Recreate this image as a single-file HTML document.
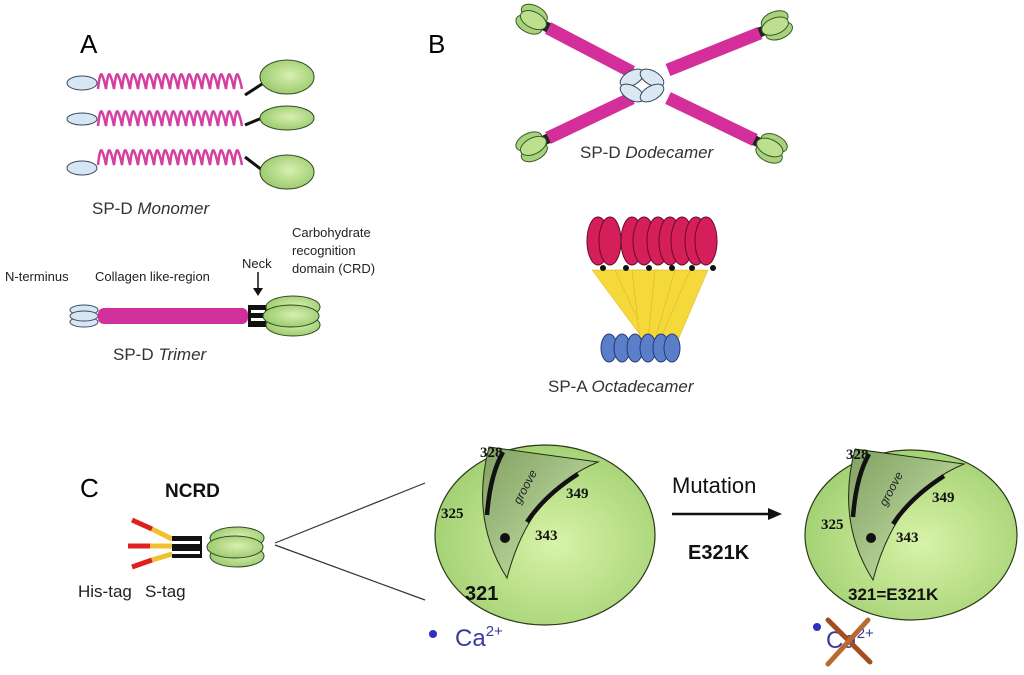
<!DOCTYPE html>
<html><head><meta charset="utf-8"><style>
html,body{margin:0;padding:0;background:#fff;width:1024px;height:675px;overflow:hidden}
svg{display:block;font-family:"Liberation Sans",Arial,sans-serif}
</style></head><body>
<svg width="1024" height="675" viewBox="0 0 1024 675" xmlns="http://www.w3.org/2000/svg">
<defs>
<radialGradient id="g" cx="0.55" cy="0.45" r="0.6"><stop offset="0" stop-color="#d8f0b0"/><stop offset="1" stop-color="#98c86a"/></radialGradient>
<radialGradient id="gb" cx="0.55" cy="0.55" r="0.65"><stop offset="0" stop-color="#d8f3a8"/><stop offset="1" stop-color="#9ccc6c"/></radialGradient>
<linearGradient id="gr" x1="0" y1="0" x2="1" y2="1"><stop offset="0" stop-color="#7fa060"/><stop offset="1" stop-color="#d5ecb5"/></linearGradient>
<path id="hx" d="M0,0 q2,-18 4,-14 q2,4 4,14 q2,-18 4,-14 q2,4 4,14 q2,-18 4,-14 q2,4 4,14 q2,-18 4,-14 q2,4 4,14 q2,-18 4,-14 q2,4 4,14 q2,-18 4,-14 q2,4 4,14 q2,-18 4,-14 q2,4 4,14 q2,-18 4,-14 q2,4 4,14 q2,-18 4,-14 q2,4 4,14 q2,-18 4,-14 q2,4 4,14 q2,-18 4,-14 q2,4 4,14 q2,-18 4,-14 q2,4 4,14 q2,-18 4,-14 q2,4 4,14 q2,-18 4,-14 q2,4 4,14 q2,-18 4,-14 q2,4 4,14 q2,-18 4,-14 q2,4 4,14 q2,-18 4,-14 q2,4 4,14 q2,-18 4,-14 q2,4 4,14" fill="none" stroke="#d43fa2" stroke-width="2.5"/>
<g id="crd3"><ellipse cx="0" cy="-9" rx="27" ry="11" fill="url(#g)" stroke="#2f4a20"/><ellipse cx="0" cy="9" rx="27" ry="11" fill="url(#g)" stroke="#2f4a20"/><ellipse cx="-2" cy="0" rx="28" ry="11" fill="url(#g)" stroke="#2f4a20"/></g>
<g id="endc"><rect x="-4" y="-5" width="8" height="10" fill="#222"/><ellipse cx="15" cy="-6" rx="14" ry="8" fill="#a8d27c" stroke="#3a5a28"/><ellipse cx="15" cy="6" rx="14" ry="8" fill="#a8d27c" stroke="#3a5a28"/><ellipse cx="13" cy="0" rx="14" ry="8" fill="#bde08e" stroke="#3a5a28"/></g>
</defs>

<!-- Panel A -->
<text x="80" y="53" font-size="26">A</text>
<ellipse cx="82" cy="83" rx="15" ry="7" fill="#d6e6f5" stroke="#3a4a5a"/>
<use href="#hx" x="98" y="89"/>
<line x1="245" y1="95" x2="262" y2="84" stroke="#111" stroke-width="3"/>
<ellipse cx="287" cy="77" rx="27" ry="17" fill="url(#g)" stroke="#2f4a20"/>
<ellipse cx="82" cy="119" rx="15" ry="6" fill="#d6e6f5" stroke="#3a4a5a"/>
<use href="#hx" x="98" y="126"/>
<line x1="245" y1="125" x2="262" y2="118" stroke="#111" stroke-width="3"/>
<ellipse cx="287" cy="118" rx="27" ry="12" fill="url(#g)" stroke="#2f4a20"/>
<ellipse cx="82" cy="168" rx="15" ry="7" fill="#d6e6f5" stroke="#3a4a5a"/>
<use href="#hx" x="98" y="165"/>
<line x1="245" y1="157" x2="262" y2="170" stroke="#111" stroke-width="3"/>
<ellipse cx="287" cy="172" rx="27" ry="17" fill="url(#g)" stroke="#2f4a20"/>
<text x="92" y="214" font-size="17" fill="#333">SP-D <tspan font-style="italic">Monomer</tspan></text>

<text x="5" y="281" font-size="13" fill="#222">N-terminus</text>
<text x="95" y="281" font-size="13" fill="#222">Collagen like-region</text>
<text x="242" y="268" font-size="13" fill="#222">Neck</text>
<line x1="258" y1="272" x2="258" y2="290" stroke="#111" stroke-width="1.5"/>
<path d="M253,288 L263,288 L258,296 Z" fill="#111"/>
<text x="292" y="237" font-size="13" fill="#222">Carbohydrate</text>
<text x="292" y="255" font-size="13" fill="#222">recognition</text>
<text x="292" y="273" font-size="13" fill="#222">domain (CRD)</text>
<ellipse cx="84" cy="310" rx="14" ry="5" fill="#d6e6f5" stroke="#3a4a5a"/>
<ellipse cx="84" cy="322" rx="14" ry="5" fill="#d6e6f5" stroke="#3a4a5a"/>
<ellipse cx="84" cy="316" rx="14" ry="5" fill="#d6e6f5" stroke="#3a4a5a"/>
<rect x="98" y="308" width="150" height="16" rx="6" fill="#d22f9a"/>
<rect x="248" y="305" width="18" height="22" fill="#111"/>
<rect x="251" y="310" width="14" height="3" fill="#fff"/>
<rect x="251" y="318" width="14" height="3" fill="#fff"/>
<use href="#crd3" x="293" y="316"/>
<text x="113" y="360" font-size="17" fill="#333">SP-D <tspan font-style="italic">Trimer</tspan></text>

<!-- Panel B -->
<text x="428" y="53" font-size="26">B</text>
<g stroke="#d32e9a" stroke-width="13" stroke-linecap="butt">
<line x1="548" y1="28" x2="632" y2="72"/>
<line x1="760" y1="33" x2="668" y2="70"/>
<line x1="548" y1="138" x2="632" y2="98"/>
<line x1="755" y1="140" x2="668" y2="98"/>
</g>
<ellipse cx="632" cy="78" rx="13" ry="7" transform="rotate(-30 632 78)" fill="#dbe8f4" stroke="#3a4a5a"/>
<ellipse cx="652" cy="78" rx="13" ry="7" transform="rotate(30 652 78)" fill="#dbe8f4" stroke="#3a4a5a"/>
<ellipse cx="632" cy="93" rx="13" ry="7" transform="rotate(30 632 93)" fill="#dbe8f4" stroke="#3a4a5a"/>
<ellipse cx="652" cy="93" rx="13" ry="7" transform="rotate(-30 652 93)" fill="#dbe8f4" stroke="#3a4a5a"/>
<use href="#endc" transform="translate(545,26) rotate(207)"/>
<use href="#endc" transform="translate(763,31) rotate(-22)"/>
<use href="#endc" transform="translate(545,140) rotate(153)"/>
<use href="#endc" transform="translate(758,142) rotate(25)"/>
<text x="580" y="158" font-size="17" fill="#333">SP-D <tspan font-style="italic">Dodecamer</tspan></text>

<!-- Octadecamer -->
<g fill="#f5d93a" stroke="#d9b020" stroke-width="0.5">
<path d="M592,270 L640,335 L660,335 L630,270 Z"/>
<path d="M615,270 L645,335 L660,335 L645,270 Z"/>
<path d="M632,270 L640,340 L668,340 L660,270 Z"/>
<path d="M655,270 L648,340 L672,340 L675,270 Z"/>
<path d="M675,270 L655,340 L675,340 L692,270 Z"/>
<path d="M690,270 L660,340 L678,340 L708,270 Z"/>
</g>
<g fill="#d51f5a" stroke="#6a0a2a" stroke-width="1">
<ellipse cx="598" cy="241" rx="11" ry="24"/><ellipse cx="610" cy="241" rx="11" ry="24"/>
<ellipse cx="632" cy="241" rx="11" ry="24"/><ellipse cx="644" cy="241" rx="11" ry="24"/>
<ellipse cx="658" cy="241" rx="11" ry="24"/><ellipse cx="670" cy="241" rx="11" ry="24"/>
<ellipse cx="682" cy="241" rx="11" ry="24"/><ellipse cx="696" cy="241" rx="11" ry="24"/>
<ellipse cx="706" cy="241" rx="11" ry="24"/>
</g>
<g fill="#111"><circle cx="603" cy="268" r="3"/><circle cx="626" cy="268" r="3"/><circle cx="649" cy="268" r="3"/><circle cx="672" cy="268" r="3"/><circle cx="692" cy="268" r="3"/><circle cx="713" cy="268" r="3"/></g>
<g fill="#5a7ec8" stroke="#243a7a">
<ellipse cx="609" cy="348" rx="8" ry="14"/><ellipse cx="622" cy="348" rx="8" ry="14"/><ellipse cx="635" cy="348" rx="8" ry="14"/><ellipse cx="648" cy="348" rx="8" ry="14"/><ellipse cx="661" cy="348" rx="8" ry="14"/><ellipse cx="672" cy="348" rx="8" ry="14"/>
</g>
<text x="548" y="392" font-size="17" fill="#333">SP-A <tspan font-style="italic">Octadecamer</tspan></text>

<!-- Panel C -->
<text x="80" y="497" font-size="26">C</text>
<text x="165" y="497" font-size="19" font-weight="bold" fill="#111">NCRD</text>
<g stroke-width="5">
<line x1="132" y1="520" x2="152" y2="529" stroke="#e02020"/><line x1="152" y1="529" x2="172" y2="539" stroke="#f0c030"/>
<line x1="128" y1="546" x2="150" y2="546" stroke="#e02020"/><line x1="150" y1="546" x2="172" y2="546" stroke="#f0c030"/>
<line x1="132" y1="567" x2="152" y2="560" stroke="#e02020"/><line x1="152" y1="560" x2="172" y2="554" stroke="#f0c030"/>
</g>
<rect x="172" y="536" width="30" height="22" fill="#111"/>
<rect x="172" y="541" width="28" height="3" fill="#fff"/>
<rect x="172" y="551" width="28" height="3" fill="#fff"/>
<use href="#crd3" x="237" y="547"/>
<line x1="275" y1="543" x2="425" y2="483" stroke="#333" stroke-width="1.2"/>
<line x1="275" y1="545" x2="425" y2="600" stroke="#333" stroke-width="1.2"/>
<text x="78" y="597" font-size="17" fill="#222">His-tag</text>
<text x="145" y="597" font-size="17" fill="#222">S-tag</text>

<!-- circle 1 -->
<g>
<ellipse cx="545" cy="535" rx="110" ry="90" fill="url(#gb)" stroke="#2a3a1a" stroke-width="1.2"/>
<path d="M489,447 L598,462 Q530,490 507,578 Q470,520 489,447 Z" fill="url(#gr)" stroke="#1e2e10" stroke-width="1"/>
<path d="M487,515 Q490,475 503,452" fill="none" stroke="#111" stroke-width="4.5"/>
<path d="M527,522 Q545,495 578,474" fill="none" stroke="#111" stroke-width="4.5"/>
<circle cx="505" cy="538" r="5" fill="#111"/>
<text x="520" y="505" font-size="12" font-style="italic" fill="#222" transform="rotate(-62 520 505)">groove</text>
<g font-family="Liberation Serif,serif" font-weight="bold" font-size="15" fill="#111">
<text x="480" y="457">328</text><text x="441" y="518">325</text><text x="566" y="498">349</text><text x="535" y="540">343</text>
</g>
</g>
<text x="465" y="600" font-size="20" font-weight="bold" fill="#111">321</text>
<circle cx="433" cy="634" r="4" fill="#3030c0"/>
<text x="455" y="646" font-size="24" fill="#3a3a9a">Ca<tspan font-size="15" dy="-10">2+</tspan></text>

<!-- arrow -->
<text x="672" y="493" font-size="22" fill="#111">Mutation</text>
<line x1="672" y1="514" x2="770" y2="514" stroke="#111" stroke-width="2.5"/>
<path d="M768,508 L782,514 L768,520 Z" fill="#111"/>
<text x="688" y="559" font-size="20" font-weight="bold" fill="#111">E321K</text>

<!-- circle 2 -->
<g transform="translate(366,2)">
<ellipse cx="545" cy="533" rx="106" ry="85" fill="url(#gb)" stroke="#2a3a1a" stroke-width="1.2"/>
<path d="M489,447 L598,462 Q530,490 507,578 Q470,520 489,447 Z" fill="url(#gr)" stroke="#1e2e10" stroke-width="1"/>
<path d="M487,515 Q490,475 503,452" fill="none" stroke="#111" stroke-width="4.5"/>
<path d="M527,522 Q545,495 578,474" fill="none" stroke="#111" stroke-width="4.5"/>
<circle cx="505" cy="536" r="5" fill="#111"/>
<text x="520" y="505" font-size="12" font-style="italic" fill="#222" transform="rotate(-62 520 505)">groove</text>
<g font-family="Liberation Serif,serif" font-weight="bold" font-size="15" fill="#111">
<text x="480" y="457">328</text><text x="455" y="527">325</text><text x="566" y="500">349</text><text x="530" y="540">343</text>
</g>
</g>
<text x="848" y="600" font-size="17" font-weight="bold" fill="#111">321=E321K</text>
<circle cx="817" cy="627" r="4" fill="#3030c0"/>
<text x="826" y="648" font-size="24" fill="#3a3a9a">Ca<tspan font-size="15" dy="-10">2+</tspan></text>
<line x1="828" y1="620" x2="870" y2="662" stroke="#a05020" stroke-width="5" stroke-linecap="round"/>
<line x1="868" y1="620" x2="828" y2="664" stroke="#b86a30" stroke-width="5" stroke-linecap="round"/>
</svg>
</body></html>
